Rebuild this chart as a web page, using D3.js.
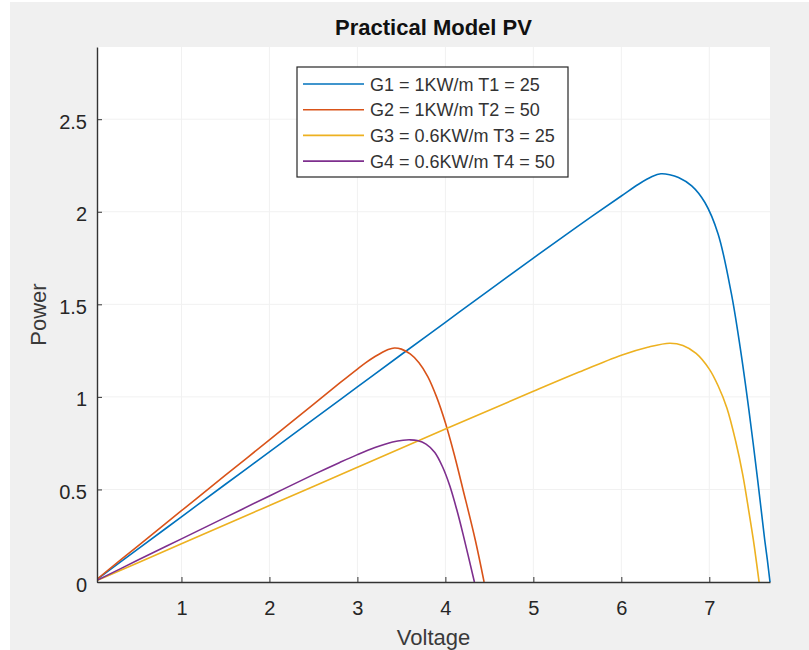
<!DOCTYPE html>
<html>
<head>
<meta charset="utf-8">
<script src="https://cdn.jsdelivr.net/npm/d3@7"></script>
<style>
  body { margin: 0; background: #ffffff; }
  text { font-family: "Liberation Sans", Arial, Helvetica, sans-serif; fill: #262626; }
</style>
</head>
<body>
<div id="chart-area"></div>
<script>
// values (Voltage / Power)
const g1Volt  = [0.04, 0.5, 1, 1.5, 2, 2.5, 3, 3.5, 4, 4.5, 5, 5.5, 6, 6.2, 6.35, 6.45, 6.55, 6.65, 6.8, 6.95, 7.1, 7.25, 7.35, 7.45, 7.55, 7.63, 7.66, 7.69];
const g1Power = [0.014, 0.176, 0.352, 0.528, 0.703, 0.879, 1.054, 1.229, 1.403, 1.577, 1.75, 1.92, 2.085, 2.15, 2.19, 2.205, 2.2, 2.185, 2.14, 2.05, 1.88, 1.56, 1.27, 0.93, 0.55, 0.227, 0.119, 0];

const g2Volt  = [0.04, 0.5, 1, 1.5, 2, 2.5, 2.8, 3.0, 3.1, 3.2, 3.28, 3.35, 3.42, 3.5, 3.6, 3.7, 3.8, 3.9, 4.0, 4.1, 4.2, 4.34, 4.44];
const g2Power = [0.015, 0.193, 0.385, 0.577, 0.768, 0.96, 1.075, 1.15, 1.186, 1.218, 1.24, 1.256, 1.264, 1.258, 1.232, 1.185, 1.11, 1.0, 0.86, 0.69, 0.5, 0.227, 0];

const g3Volt  = [0.04, 0.5, 1, 2, 3, 4, 5, 5.5, 6.0, 6.3, 6.55, 6.7, 6.85, 7.0, 7.1, 7.2, 7.3, 7.38, 7.45, 7.5, 7.566];
const g3Power = [0.008, 0.103, 0.207, 0.413, 0.62, 0.826, 1.03, 1.13, 1.225, 1.268, 1.29, 1.278, 1.235, 1.15, 1.06, 0.94, 0.76, 0.58, 0.38, 0.23, 0];

const g4Volt  = [0.04, 0.5, 1, 1.5, 2, 2.5, 2.8, 3.0, 3.2, 3.4, 3.52, 3.6, 3.68, 3.78, 3.88, 3.97, 4.05, 4.13, 4.2, 4.33];
const g4Power = [0.009, 0.117, 0.233, 0.349, 0.465, 0.58, 0.646, 0.688, 0.726, 0.756, 0.766, 0.768, 0.764, 0.745, 0.7, 0.62, 0.52, 0.39, 0.26, 0];

const seriesNames = ["G1 = 1KW/m T1 = 25", "G2 = 1KW/m T2 = 50", "G3 = 0.6KW/m T3 = 25", "G4 = 0.6KW/m T4 = 50"];
const xTicks = [1, 2, 3, 4, 5, 6, 7];
const yTicks = [0, 0.5, 1, 1.5, 2, 2.5];
const xDomain = [0.04, 7.69];
const yDomain = [0, 2.89];

const colors = ["#0072BD", "#D95319", "#EDB120", "#7E2F8E"];

let width = 809, height = 650;
let plot = {left: 97, right: 770, top: 47, bottom: 582};

let series = [
    {name: seriesNames[0], volt: g1Volt, power: g1Power},
    {name: seriesNames[1], volt: g2Volt, power: g2Power},
    {name: seriesNames[2], volt: g3Volt, power: g3Power},
    {name: seriesNames[3], volt: g4Volt, power: g4Power}
].map(s => s.volt.map((v, i) => ({v: v, p: s.power[i]})));

const svg = d3.select("#chart-area").append("svg")
    .attr("width", width)
    .attr("height", height)

// figure background
svg.append("rect")
    .attr("x", 10).attr("y", 2)
    .attr("width", width - 10).attr("height", height - 2)
    .attr("fill", "#f0f0f0")

// axes background
svg.append("rect")
    .attr("x", plot.left).attr("y", plot.top)
    .attr("width", plot.right - plot.left).attr("height", plot.bottom - plot.top)
    .attr("fill", "#ffffff")

const x = d3.scaleLinear().domain(xDomain).range([plot.left, plot.right]);
const y = d3.scaleLinear().domain(yDomain).range([plot.bottom, plot.top]);

// grid
svg.append("g")
    .selectAll("line").data(xTicks).enter().append("line")
    .attr("x1", d => x(d)).attr("x2", d => x(d))
    .attr("y1", plot.top).attr("y2", plot.bottom)
    .attr("stroke", "#f1f1f1")
svg.append("g")
    .selectAll("line").data(yTicks.slice(1)).enter().append("line")
    .attr("x1", plot.left).attr("x2", plot.right)
    .attr("y1", d => y(d)).attr("y2", d => y(d))
    .attr("stroke", "#f1f1f1")

// lines
svg.append("clipPath").attr("id", "clip")
    .append("rect")
    .attr("x", plot.left).attr("y", plot.top - 2)
    .attr("width", plot.right - plot.left + 1).attr("height", plot.bottom - plot.top + 2)

const line = d3.line()
    .x(d => x(d.v))
    .y(d => y(d.p))
    .curve(d3.curveCatmullRom.alpha(0.5))

svg.append("g").attr("clip-path", "url(#clip)")
    .selectAll("path").data(series).enter().append("path")
    .attr("d", line)
    .attr("fill", "none")
    .attr("stroke", (d, i) => colors[i])
    .attr("stroke-width", 1.6)

// x axis (ticks inward)
const xAxis = svg.append("g")
    .attr("transform", `translate(0, ${plot.bottom})`)
    .call(d3.axisBottom(x).tickValues(xTicks).tickSizeInner(-5).tickSizeOuter(0).tickPadding(19))
xAxis.select(".domain").attr("stroke", "#333333").attr("stroke-width", 1.4)
xAxis.selectAll(".tick line").attr("stroke", "#333333")
xAxis.selectAll("text").attr("font-size", "20px").attr("fill", "#3a3a3a")
    .attr("font-family", "Liberation Sans, Arial, sans-serif")

// y axis
const yAxis = svg.append("g")
    .attr("transform", `translate(${plot.left}, 0)`)
    .call(d3.axisLeft(y).tickValues(yTicks).tickFormat(d3.format("~g")).tickSizeInner(-5).tickSizeOuter(0).tickPadding(10))
yAxis.select(".domain").attr("stroke", "#333333").attr("stroke-width", 1.4)
yAxis.selectAll(".tick line").attr("stroke", "#333333")
yAxis.selectAll("text").attr("font-size", "20px").attr("fill", "#3a3a3a")
    .attr("font-family", "Liberation Sans, Arial, sans-serif")
    .attr("dy", "0.45em")

// title
svg.append("text")
    .attr("x", (plot.left + plot.right) / 2)
    .attr("y", 35)
    .attr("font-size", "22px")
    .attr("font-weight", "bold")
    .attr("text-anchor", "middle")
    .style("fill", "#111")
    .text("Practical Model PV")

// x label
svg.append("text")
    .attr("x", (plot.left + plot.right) / 2)
    .attr("y", 645)
    .attr("font-size", "22px")
    .attr("text-anchor", "middle")
    .style("fill", "#3a3a3a")
    .text("Voltage")

// y label
svg.append("text")
    .attr("x", -(plot.top + plot.bottom) / 2)
    .attr("y", 46)
    .attr("font-size", "22px")
    .attr("text-anchor", "middle")
    .attr("transform", "rotate(-90)")
    .style("fill", "#3a3a3a")
    .text("Power")

// legend
const legend = svg.append("g").attr("transform", "translate(297, 67)")
legend.append("rect")
    .attr("width", 271).attr("height", 110)
    .attr("fill", "#ffffff")
    .attr("stroke", "#262626")
    .attr("stroke-width", 1.2)

const rows = legend.selectAll("g.row").data(seriesNames).enter().append("g")
    .attr("class", "row")
    .attr("transform", (d, i) => `translate(0, ${17 + i * 25.7})`)
rows.append("line")
    .attr("x1", 6).attr("x2", 67)
    .attr("stroke", (d, i) => colors[i])
    .attr("stroke-width", 1.6)
rows.append("text")
    .attr("x", 73).attr("y", 6.5)
    .attr("font-size", "18px")
    .style("fill", "#333333")
    .text(d => d)
</script>
</body>
</html>
